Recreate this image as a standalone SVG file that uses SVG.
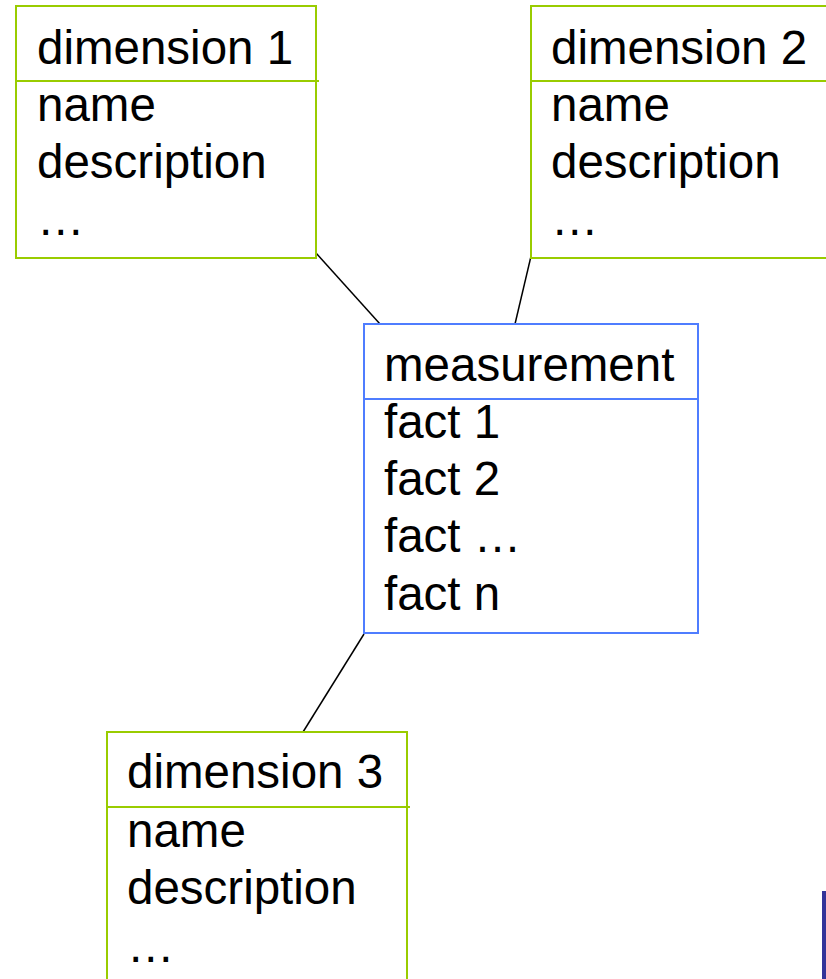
<svg xmlns="http://www.w3.org/2000/svg" width="826" height="979" viewBox="0 0 826 979">
  <style>
    .dim { fill: #ffffff; stroke: #99cc00; stroke-width: 2; }
    .dimline { stroke: #99cc00; stroke-width: 2; }
    .fact { fill: #ffffff; stroke: #4f7dff; stroke-width: 2; }
    .factline { stroke: #4f7dff; stroke-width: 2; }
    .link { stroke: #000000; stroke-width: 1.5; fill: none; }
    text { font-family: "Liberation Sans", Arial, sans-serif; font-size: 47.5px; fill: #000000; }
  </style>
  <rect width="826" height="979" fill="#ffffff"/>

  <g id="connectors">
    <line class="link" x1="316" y1="253" x2="380" y2="324"/>
    <line class="link" x1="532" y1="252" x2="515" y2="324"/>
    <line class="link" x1="364" y1="634" x2="303" y2="732"/>
  </g>

  <g id="dimension1">
    <rect class="dim" x="16" y="6" width="300" height="252"/>
    <line class="dimline" x1="16" y1="81" x2="319" y2="81"/>
    <text x="37" y="64">dimension 1</text>
    <text x="37" y="121">name</text>
    <text x="37" y="178">description</text>
    <text x="37" y="235">…</text>
  </g>

  <g id="dimension2">
    <rect class="dim" x="531" y="6" width="310" height="252"/>
    <line class="dimline" x1="531" y1="81" x2="826" y2="81"/>
    <text x="551" y="64">dimension 2</text>
    <text x="551" y="121">name</text>
    <text x="551" y="178">description</text>
    <text x="551" y="235">…</text>
  </g>

  <g id="measurement">
    <rect class="fact" x="364" y="324" width="334" height="309"/>
    <line class="factline" x1="364" y1="399" x2="698" y2="399"/>
    <text x="384" y="381">measurement</text>
    <text x="384" y="438">fact 1</text>
    <text x="384" y="495">fact 2</text>
    <text x="384" y="552">fact …</text>
    <text x="384" y="610">fact n</text>
  </g>

  <g id="dimension3">
    <rect class="dim" x="107" y="732" width="300" height="270"/>
    <line class="dimline" x1="107" y1="807" x2="410" y2="807"/>
    <text x="127" y="788">dimension 3</text>
    <text x="127" y="847">name</text>
    <text x="127" y="904">description</text>
    <text x="127" y="962">…</text>
  </g>

  <rect id="edge-bar" x="822" y="891" width="4" height="88" fill="#333399"/>
</svg>
